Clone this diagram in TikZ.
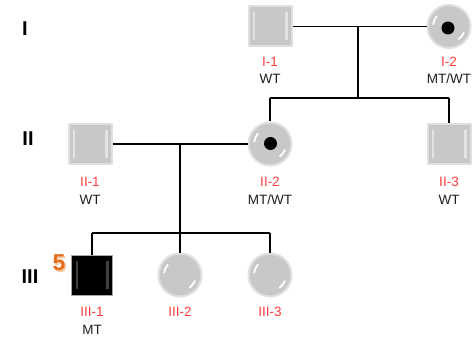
\documentclass[tikz,border=0pt]{standalone}
\usepackage{fontspec}
\setmainfont{Liberation Sans}
\definecolor{sqgray}{RGB}{200,200,200}
\definecolor{rim}{RGB}{224,224,224}
\definecolor{lblred}{RGB}{255,60,60}
\definecolor{txtdark}{RGB}{30,30,30}
\definecolor{fiveor}{RGB}{228,110,28}
\definecolor{fivesh}{RGB}{248,205,170}
\tikzset{
  line/.style={draw=black,line width=1.8pt},
  sqhl/.style={path picture={
     \fill[white,opacity=#1] ([xshift=4pt,yshift=-6pt]path picture bounding box.north west) rectangle ([xshift=6.5pt,yshift=6pt]path picture bounding box.south west);
     \fill[white,opacity=#1] ([xshift=-4pt,yshift=-6pt]path picture bounding box.north east) rectangle ([xshift=-6.5pt,yshift=6pt]path picture bounding box.south east);
  }},
  male/.style={rectangle,minimum width=43pt,minimum height=40pt,inner sep=0pt,
     fill=sqgray,draw=rim,line width=2pt,sqhl=0.5},
  affmale/.style={rectangle,minimum width=41pt,minimum height=40pt,inner sep=0pt,
     fill=black,draw=gray!70,line width=1pt,sqhl=0.25},
  female/.style={circle,minimum size=43pt,inner sep=0pt,fill=sqgray,draw=rim,line width=2pt,
     path picture={
       \draw[white,line width=1.8pt,line cap=round] ([shift={(140:16pt)}]path picture bounding box.center) arc[start angle=140,end angle=172,radius=16pt];
       \draw[white,line width=1.8pt,line cap=round] ([shift={(-22:16pt)}]path picture bounding box.center) arc[start angle=-22,end angle=-52,radius=16pt];
     }},
  dot/.style={circle,fill=black,minimum size=13pt,inner sep=0pt},
  idlbl/.style={text=lblred,font=\fontsize{13.5}{15}\selectfont,text height=9.6pt,text depth=0pt,inner sep=0pt},
  gtlbl/.style={text=txtdark,font=\fontsize{13.5}{15}\selectfont,text height=9.6pt,text depth=0pt,inner sep=0pt},
  genlbl/.style={text=black,font=\fontsize{20}{22}\selectfont\bfseries,text height=14.3pt,text depth=0pt,inner sep=0pt},
  fivelbl/.style={font=\fontsize{23}{25}\selectfont\bfseries,inner sep=0pt},
}
\begin{document}
\begin{tikzpicture}[x=1pt,y=-1pt]
\useasboundingbox[fill=white] (0,0) rectangle (472,345);

% generation labels
\node[genlbl] (gI) at (25,28) {I};
\node[genlbl] (gII) at (28,138) {II};
\node[genlbl] (gIII) at (30,276) {III};

% individuals
\node[male] (I1) at (270,26.5) {};
\node[female] (I2) at (449,26.5) {};
\node[dot] (I2d) at (448,28) {};

\node[male] (II1) at (90,144) {};
\node[female] (II2) at (270,144) {};
\node[dot] (II2d) at (270.5,143.5) {};
\node[male] (II3) at (449,144) {};

\node[affmale] (III1) at (92,275) {};
\node[female] (III2) at (180,275) {};
\node[female] (III3) at (270,275) {};

% proband number
\node[fivelbl,text=fivesh] (p5s) at (60.5,264.5) {5};
\node[fivelbl,text=fiveor] (p5) at (59,263) {5};

% labels
\node[idlbl] (lI1) at (270,62) {I-1};
\node[gtlbl] (gI1) at (270,78.5) {WT};
\node[idlbl] (lI2) at (449,62) {I-2};
\node[gtlbl] (gI2) at (449,78.5) {MT/WT};

\node[idlbl] (lII1) at (90,181.5) {II-1};
\node[gtlbl] (gII1) at (90,199.5) {WT};
\node[idlbl] (lII2) at (270,181.5) {II-2};
\node[gtlbl] (gII2) at (270,199.5) {MT/WT};
\node[idlbl] (lII3) at (449,181.5) {II-3};
\node[gtlbl] (gII3) at (449,199.5) {WT};

\node[idlbl] (lIII1) at (92,312) {III-1};
\node[gtlbl] (gIII1) at (92,329.5) {MT};
\node[idlbl] (lIII2) at (180,312) {III-2};
\node[idlbl] (lIII3) at (270,312) {III-3};

% connectors
\coordinate (m1) at (358,26.5);
\coordinate (s1) at (358,98);
\draw[line] (I1.east) -- (I2.west);
\draw[line] (m1) -- (s1);
\draw[line] (II2.north |- s1) -- (II3.north |- s1);
\draw[line] (II2.north |- s1) -- (II2.north);
\draw[line] (II3.north |- s1) -- (II3.north);

\coordinate (m2) at (180,144);
\coordinate (s2) at (180,233);
\draw[line] (II1.east) -- (II2.west);
\draw[line] (m2) -- (s2);
\draw[line] (III1.north |- s2) -- (III3.north |- s2);
\draw[line] (III1.north |- s2) -- (III1.north);
\draw[line] (III2.north |- s2) -- (III2.north);
\draw[line] (III3.north |- s2) -- (III3.north);
\end{tikzpicture}
\end{document}
